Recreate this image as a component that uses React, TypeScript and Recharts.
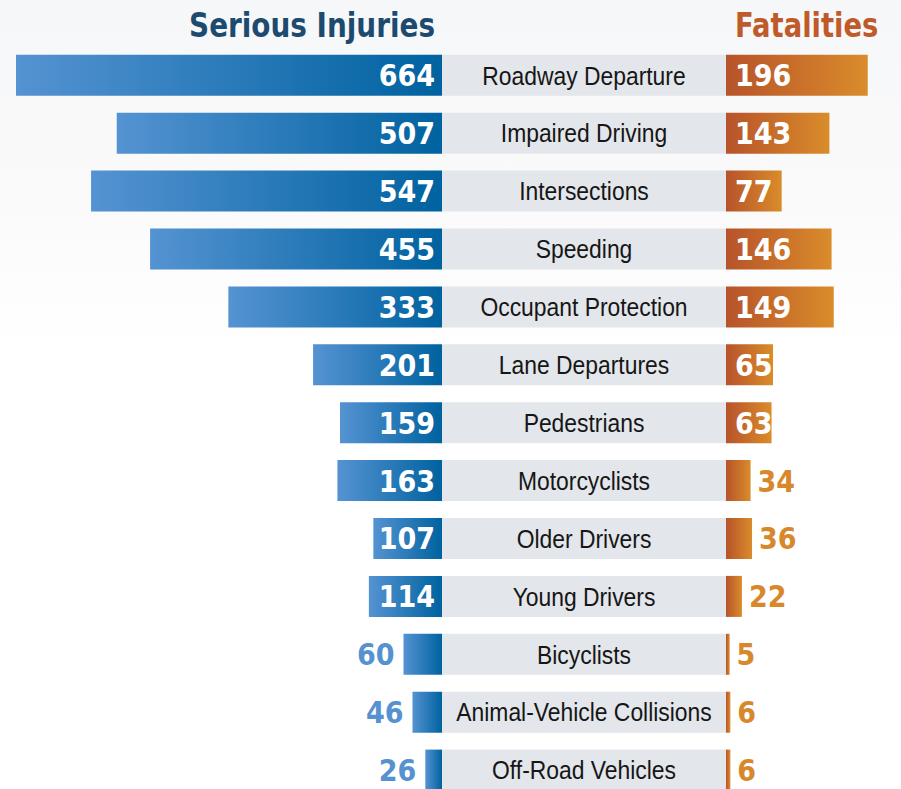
import React from 'react';
import { BarChart, Bar, XAxis, YAxis, LabelList } from 'recharts';

const categories = [
  'Roadway Departure',
  'Impaired Driving',
  'Intersections',
  'Speeding',
  'Occupant Protection',
  'Lane Departures',
  'Pedestrians',
  'Motorcyclists',
  'Older Drivers',
  'Young Drivers',
  'Bicyclists',
  'Animal-Vehicle Collisions',
  'Off-Road Vehicles',
];
const seriousInjuries = [664, 507, 547, 455, 333, 201, 159, 163, 107, 114, 60, 46, 26];
const fatalities = [196, 143, 77, 146, 149, 65, 63, 34, 36, 22, 5, 6, 6];
const leftTitle = 'Serious Injuries';
const rightTitle = 'Fatalities';

const rows = categories.map((name, i) => ({
  name,
  injuries: seriousInjuries[i],
  fatalities: fatalities[i],
  box: 1,
}));

const NUM_FONT = "'DejaVu Sans', Verdana, sans-serif";
const CAT_FONT = "'Liberation Sans', Arial, sans-serif";
const MARGIN_TOP = 46.8;
const CHART_H = MARGIN_TOP + 13 * 57.9;
const BAR_SIZE = 41;
const NUM_SIZE = 30;
const NUM_SX = 0.9;

const LeftLabel = (props: any) => {
  const { x, y, width, height, value } = props;
  const l = Math.min(x, x + width);
  const r = Math.max(x, x + width);
  const inside = value >= 100;
  const tx = inside ? r - 7 : l - 9;
  const ty = y + height / 2;
  return (
    <text
      transform={`translate(${tx},${ty}) scale(${NUM_SX},1)`}
      x={0}
      y={0}
      dy="0.365em"
      textAnchor="end"
      fill={inside ? '#ffffff' : '#5592cf'}
      fontFamily={NUM_FONT}
      fontWeight={700}
      fontSize={NUM_SIZE}
    >
      {value}
    </text>
  );
};

const RightLabel = (props: any) => {
  const { x, y, width, height, value } = props;
  const l = Math.min(x, x + width);
  const r = Math.max(x, x + width);
  const inside = value >= 60;
  const tx = inside ? l + 9 : r + 7;
  const ty = y + height / 2;
  return (
    <text
      transform={`translate(${tx},${ty}) scale(${NUM_SX},1)`}
      x={0}
      y={0}
      dy="0.365em"
      textAnchor="start"
      fill={inside ? '#ffffff' : '#d8882b'}
      fontFamily={NUM_FONT}
      fontWeight={700}
      fontSize={NUM_SIZE}
    >
      {value}
    </text>
  );
};

const CatLabel = (props: any) => {
  const { x, y, width, height, value } = props;
  const cx = x + width / 2;
  const cy = y + height / 2;
  return (
    <text
      transform={`translate(${cx},${cy}) scale(0.88,1)`}
      x={0}
      y={0}
      dy="0.355em"
      textAnchor="middle"
      fill="#161616"
      fontFamily={CAT_FONT}
      fontSize={26}
    >
      {value}
    </text>
  );
};

export default function App() {
  return (
    <div
      style={{
        position: 'absolute',
        top: 0,
        left: 0,
        width: 901,
        height: 789,
        overflow: 'hidden',
        background: 'linear-gradient(to bottom, #f6f7f8 0%, #fafafb 25%, #ffffff 45%)',
      }}
    >
      <svg width={901} height={50} style={{ position: 'absolute', left: 0, top: 0 }}>
        <text
          transform="translate(435,37) scale(0.845,1)"
          textAnchor="end"
          fill="#1d4b70"
          fontFamily={NUM_FONT}
          fontWeight={700}
          fontSize={33}
        >
          {leftTitle}
        </text>
        <text
          transform="translate(735,37) scale(0.83,1)"
          textAnchor="start"
          fill="#bf5a2b"
          fontFamily={NUM_FONT}
          fontWeight={700}
          fontSize={33}
        >
          {rightTitle}
        </text>
      </svg>

      <div style={{ position: 'absolute', left: 0, top: 0 }}>
        <BarChart
          width={442}
          height={CHART_H}
          data={rows}
          layout="vertical"
          margin={{ top: MARGIN_TOP, right: 0, bottom: 0, left: 16 }}
          barCategoryGap={0}
        >
          <defs>
            <linearGradient id="gradL" x1="0" y1="0" x2="1" y2="0">
              <stop offset="0%" stopColor="#5593d2" />
              <stop offset="100%" stopColor="#0062a0" />
            </linearGradient>
          </defs>
          <XAxis type="number" domain={[0, 664]} reversed hide />
          <YAxis type="category" dataKey="name" hide />
          <Bar dataKey="injuries" fill="url(#gradL)" barSize={BAR_SIZE} isAnimationActive={false}>
            <LabelList dataKey="injuries" content={LeftLabel} />
          </Bar>
        </BarChart>
      </div>

      <div style={{ position: 'absolute', left: 442, top: 0 }}>
        <BarChart
          width={284}
          height={CHART_H}
          data={rows}
          layout="vertical"
          margin={{ top: MARGIN_TOP, right: 0, bottom: 0, left: 0 }}
          barCategoryGap={0}
        >
          <XAxis type="number" domain={[0, 1]} hide />
          <YAxis type="category" dataKey="name" hide />
          <Bar dataKey="box" fill="#e3e6ea" barSize={BAR_SIZE} isAnimationActive={false}>
            <LabelList dataKey="name" content={CatLabel} />
          </Bar>
        </BarChart>
      </div>

      <div style={{ position: 'absolute', left: 726, top: 0 }}>
        <BarChart
          width={175}
          height={CHART_H}
          data={rows}
          layout="vertical"
          margin={{ top: MARGIN_TOP, right: 0, bottom: 0, left: 0 }}
          barCategoryGap={0}
        >
          <defs>
            <linearGradient id="gradR" x1="0" y1="0" x2="1" y2="0">
              <stop offset="0%" stopColor="#b7532a" />
              <stop offset="100%" stopColor="#da8c2b" />
            </linearGradient>
          </defs>
          <XAxis type="number" domain={[0, 242]} hide />
          <YAxis type="category" dataKey="name" hide />
          <Bar dataKey="fatalities" fill="url(#gradR)" barSize={BAR_SIZE} isAnimationActive={false}>
            <LabelList dataKey="fatalities" content={RightLabel} />
          </Bar>
        </BarChart>
      </div>
    </div>
  );
}
